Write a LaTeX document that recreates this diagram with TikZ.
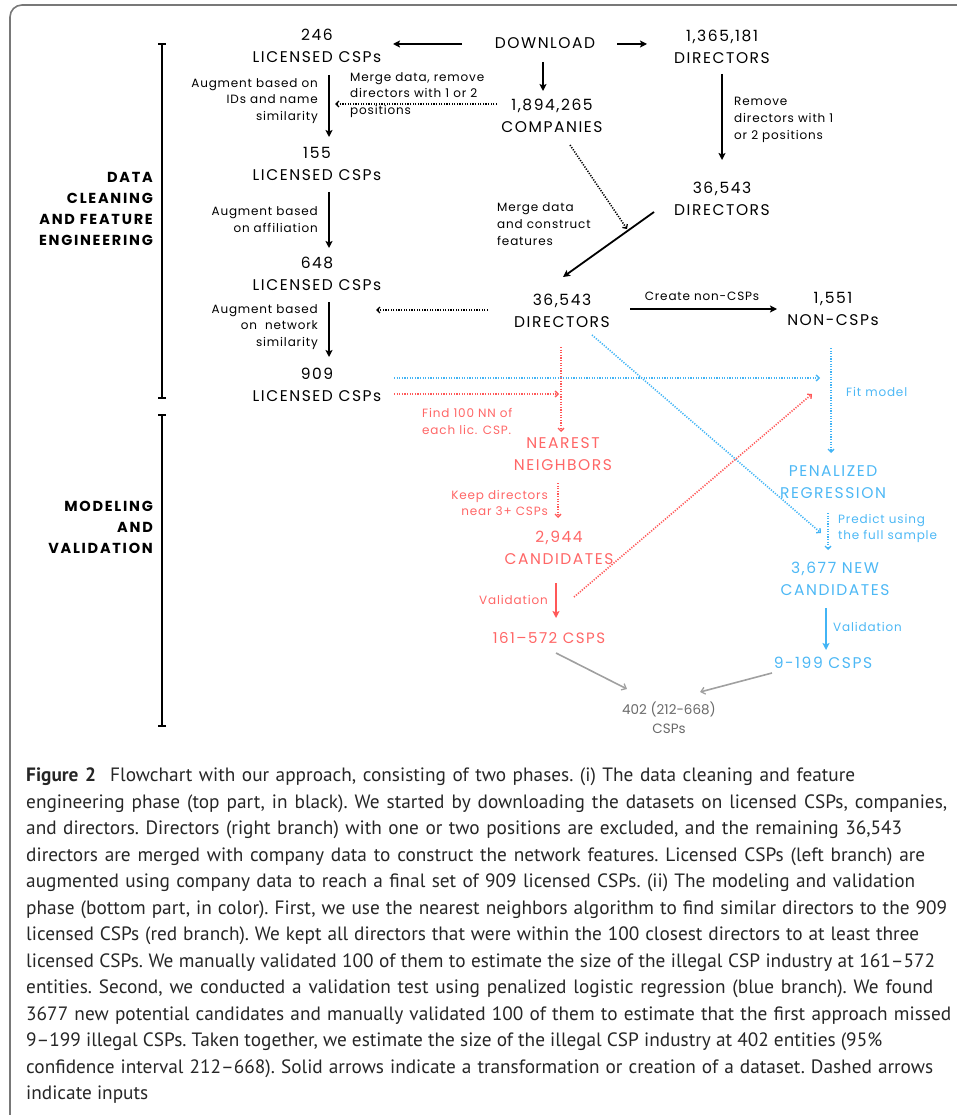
\documentclass[tikz,border=0pt]{standalone}
\usepackage{fontspec}
\setmainfont{Poppins}
\newfontfamily\dfont{Poppins}[LetterSpace=10]
\newfontfamily\sfont{Poppins}[LetterSpace=7]
\newfontfamily\secfont{Poppins}[LetterSpace=12]
\newfontfamily\capfont{PT Sans}
\usetikzlibrary{arrows.meta}
\definecolor{rd}{RGB}{255,88,88}
\definecolor{rdt}{RGB}{255,102,102}
\definecolor{bl}{RGB}{66,180,245}
\definecolor{blt}{RGB}{77,184,245}
\definecolor{gr}{RGB}{160,160,160}
\definecolor{grt}{RGB}{105,105,105}
\definecolor{fr}{RGB}{120,120,120}
\newlength\caplinewd
\newcommand\capln[2]{\setlength\caplinewd{#1pt}\frenchspacing\spaceskip=0.24em plus 0.6em minus 0.12em\relax\hbox to \caplinewd{#2}}
\begin{document}
\begin{tikzpicture}[x=1pt,y=-1pt,
  big/.style={font=\dfont\fontsize{15.5}{22}\selectfont, align=center, inner sep=0pt},
  lbl/.style={font=\sfont\fontsize{12}{16.7}\selectfont, inner sep=0pt},
  sec/.style={font=\secfont\bfseries\fontsize{14.5}{21}\selectfont, align=right, inner sep=0pt, anchor=east},
  capt/.style={anchor=base west, inner sep=0pt, text=black!85, font=\capfont\fontsize{19.3}{26.5}\selectfont},
  solidarr/.style={line width=1.8pt, -{Stealth[length=7pt,width=7pt,inset=1.5pt]}},
  dotarr/.style={line width=1.6pt, dash pattern=on 1.2pt off 1.4pt, -{Straight Barb[length=3pt,width=6pt,line width=1.3pt]}},
  grayarr/.style={gr, line width=1.6pt, -{Straight Barb[length=4pt,width=7pt,line width=1.3pt]}},
  bracket/.style={line width=1.8pt, {Bar[width=8pt]}-{Bar[width=8pt]}}
]
\useasboundingbox (0,0) rectangle (957,1115);
\draw[fr, line width=1.6pt, rounded corners=12pt] (10,1130) -- (10,5) -- (975,5);

% brackets and section labels
\draw[bracket] (162,43) -- (162,399);
\draw[bracket] (162,414) -- (162,727);
\node[sec] (secA) at (153,209) {DATA\\CLEANING\\AND FEATURE\\ENGINEERING};
\node[sec] (secB) at (153,527) {MODELING\\AND\\VALIDATION};

% black nodes
\node[big] (c246) at (317,46) {246\\LICENSED CSPs};
\node[big] (dl) at (545,43) {DOWNLOAD};
\node[big] (d1365) at (722,47) {1,365,181\\DIRECTORS};
\node[big] (comp) at (552,116) {1,894,265\\COMPANIES};
\node[big] (c155) at (317,164) {155\\LICENSED CSPs};
\node[big] (d36a) at (722,199) {36,543\\DIRECTORS};
\node[big] (c648) at (317,274) {648\\LICENSED CSPs};
\node[big] (d36b) at (562,311) {36,543\\DIRECTORS};
\node[big] (noncsp) at (833,309) {1,551\\NON-CSPs};
\node[big] (c909) at (317,385) {909\\LICENSED CSPs};

% colored nodes
\node[big, rdt] (nn) at (563,454) {NEAREST\\NEIGHBORS};
\node[big, blt] (pen) at (833,482) {PENALIZED\\REGRESSION};
\node[big, rdt] (cand) at (559,548) {2,944\\CANDIDATES};
\node[big, blt] (newcand) at (835,579) {3,677 NEW\\CANDIDATES};
\node[big, rdt, font=\dfont\fontsize{15}{22}\selectfont] (r161) at (549,638) {161–572 CSPS};
\node[big, blt] (b9) at (823,663) {9-199 CSPS};
\node[big, grt, font=\fontsize{13.5}{19}\selectfont] (final) at (669,718) {402 (212-668)\\CSPs};

% edge labels
\node[lbl, align=right, anchor=east] (l1) at (318,101) {Augment based on\\IDs and name\\similarity};
\node[lbl, align=left, anchor=west] (l2) at (350,95) {Merge data, remove\\directors with 1 or 2\\positions};
\node[lbl, align=left, anchor=west] (l3) at (734,120) {Remove\\directors with 1\\or 2 positions};
\node[lbl, align=right, anchor=east] (l4) at (318,219.5) {Augment based\\on affiliation};
\node[lbl, align=left, anchor=west] (l5) at (497,224) {Merge data\\and construct\\features};
\node[lbl, align=right, anchor=east] (l6) at (318,327) {Augment based\\on\ \ network\\similarity};
\node[lbl] (l7) at (702,296) {Create non-CSPs};
\node[lbl, rdt, align=left, anchor=west] (l8) at (422,421.5) {Find 100 NN of\\each lic. CSP.};
\node[lbl, rdt, align=right, anchor=east] (l9) at (548,503) {Keep directors\\near 3+ CSPs};
\node[lbl, rdt, anchor=east] (l10) at (548,600) {Validation};
\node[lbl, blt, anchor=west] (l11) at (846,392) {Fit model};
\node[lbl, blt, align=left, anchor=west] (l12) at (838,528.5) {Predict using\\the full sample};
\node[lbl, blt, anchor=west] (l13) at (833,627) {Validation};

% black connectors
\draw[solidarr] ([shift={(-83,1)}]dl.center) -- ([shift={(76,-2)}]c246.center);
\draw[solidarr] ([shift={(72,1)}]dl.center) -- ([shift={(-75,-3)}]d1365.center);
\draw[solidarr] ([shift={(-2,19)}]dl.center) -- ([shift={(-9,-25)}]comp.center);
\draw[solidarr] ([shift={(12,29)}]c246.center) -- ([shift={(12,-27)}]c155.center);
\draw[solidarr] ([shift={(12,28)}]c155.center) -- ([shift={(12,-26)}]c648.center);
\draw[solidarr] ([shift={(12,28)}]c648.center) -- ([shift={(12,-28)}]c909.center);
\draw[solidarr] ([shift={(0,27)}]d1365.center) -- ([shift={(0,-39)}]d36a.center);
\draw[solidarr] ([shift={(-68,13)}]d36a.center) -- ([shift={(1,-34)}]d36b.center);
\draw[solidarr] ([shift={(68,-2)}]d36b.center) -- ([shift={(-56,0)}]noncsp.center);
\draw[dotarr] ([shift={(-55,-12)}]comp.center) -- ([shift={(18,-60)}]c155.center);
\draw[dotarr] ([shift={(18,29)}]comp.center) -- ([shift={(65,-82)}]d36b.center);
\draw[dotarr] ([shift={(-74,-1)}]d36b.center) -- ([shift={(59,36)}]c648.center);

% colored connectors
\draw[dotarr, bl] ([shift={(77,-7)}]c909.center) -- ([shift={(-13,-104)}]pen.center);
\draw[dotarr, rd] ([shift={(77,9)}]c909.center) -- ([shift={(-4,-60)}]nn.center);
\draw[dotarr, rd] ([shift={(-1,36)}]d36b.center) -- ([shift={(-2,-22)}]nn.center);
\draw[dotarr, bl] ([shift={(30,24)}]d36b.center) -- ([shift={(-14,-46)}]newcand.center);
\draw[dotarr, bl] ([shift={(-2,39)}]noncsp.center) -- ([shift={(-2,-29)}]pen.center);
\draw[dotarr, rd] ([shift={(-5,29)}]nn.center) -- ([shift={(-1,-30)}]cand.center);
\draw[dotarr, bl] ([shift={(-5,31)}]pen.center) -- ([shift={(-7,-29)}]newcand.center);
\draw[solidarr, rd] ([shift={(-3,35)}]cand.center) -- ([shift={(7,-20)}]r161.center);
\draw[solidarr, bl] ([shift={(-9,29)}]newcand.center) -- ([shift={(3,-13)}]b9.center);
\draw[dotarr, rd] ([shift={(25,-41)}]r161.center) -- ([shift={(-21,-88)}]pen.center);
\draw[grayarr] ([shift={(7,15)}]r161.center) -- ([shift={(-42,-29)}]final.center);
\draw[grayarr] ([shift={(-51,10)}]b9.center) -- ([shift={(31,-26)}]final.center);

% caption
\node[capt] (cap1) at (26,781.5) {\capln{829}{\textbf{Figure 2}\hspace{0.4em} Flowchart with our approach, consisting of two phases. (i) The data cleaning and feature}};
\node[capt] (cap2) at (26,808) {\capln{921}{engineering phase (top part, in black). We started by downloading the datasets on licensed CSPs, companies,}};
\node[capt] (cap3) at (26,834.5) {\capln{876}{and directors. Directors (right branch) with one or two positions are excluded, and the remaining 36,543}};
\node[capt] (cap4) at (26,861) {\capln{899}{directors are merged with company data to construct the network features. Licensed CSPs (left branch) are}};
\node[capt] (cap5) at (26,887.5) {\capln{889}{augmented using company data to reach a final set of 909 licensed CSPs. (ii) The modeling and validation}};
\node[capt] (cap6) at (26,914) {\capln{921}{phase (bottom part, in color). First, we use the nearest neighbors algorithm to find similar directors to the 909}};
\node[capt] (cap7) at (26,940.5) {\capln{893}{licensed CSPs (red branch). We kept all directors that were within the 100 closest directors to at least three}};
\node[capt] (cap8) at (26,967) {\capln{909}{licensed CSPs. We manually validated 100 of them to estimate the size of the illegal CSP industry at 161–572}};
\node[capt] (cap9) at (26,993.5) {\capln{907}{entities. Second, we conducted a validation test using penalized logistic regression (blue branch). We found}};
\node[capt] (cap10) at (26,1020) {\capln{925}{3677 new potential candidates and manually validated 100 of them to estimate that the first approach missed}};
\node[capt] (cap11) at (26,1046.5) {\capln{856}{9–199 illegal CSPs. Taken together, we estimate the size of the illegal CSP industry at 402 entities (95\%}};
\node[capt] (cap12) at (26,1073) {\capln{907}{confidence interval 212–668). Solid arrows indicate a transformation or creation of a dataset. Dashed arrows}};
\node[capt] (cap13) at (26,1099.5) {indicate inputs};
\end{tikzpicture}
\end{document}
